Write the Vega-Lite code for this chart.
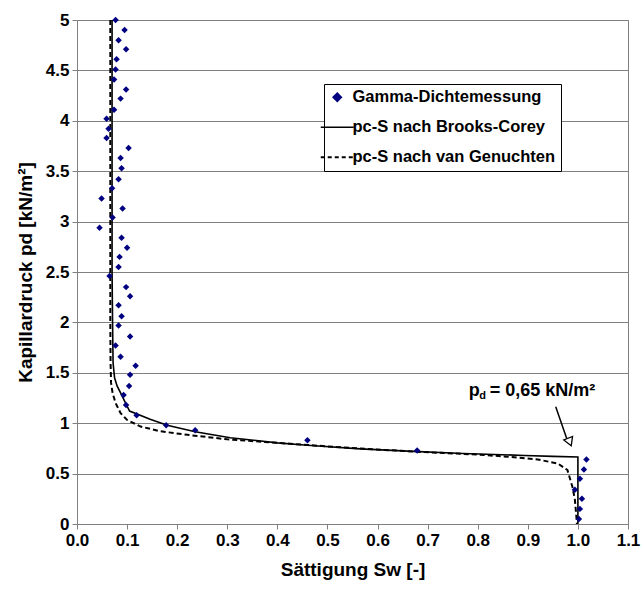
{
  "$schema": "https://vega.github.io/schema/vega-lite/v6.json",
  "width": 551,
  "height": 504,
  "autosize": {"type": "none"},
  "padding": {"left": 77, "top": 20, "right": 13, "bottom": 65},
  "background": "white",
  "config": {
    "font": "Liberation Sans",
    "view": {"stroke": "#808080", "strokeWidth": 1},
    "axis": {
      "labelFont": "Liberation Sans", "labelFontWeight": "bold", "labelFontSize": 17, "labelColor": "black",
      "titleFont": "Liberation Sans", "titleFontWeight": "bold", "titleFontSize": 19, "titleColor": "black",
      "domainColor": "#808080", "tickColor": "#808080", "gridColor": "#808080", "gridOpacity": 1,
      "tickSize": 5, "labelPadding": 3, "labelFlush": false
    }
  },
  "datasets": {
    "meas": [
      {"x": 0.077, "y": 5.00}, {"x": 0.095, "y": 4.90}, {"x": 0.083, "y": 4.80}, {"x": 0.098, "y": 4.71},
      {"x": 0.079, "y": 4.61}, {"x": 0.077, "y": 4.51}, {"x": 0.074, "y": 4.41}, {"x": 0.098, "y": 4.31},
      {"x": 0.087, "y": 4.22}, {"x": 0.074, "y": 4.11}, {"x": 0.059, "y": 4.02}, {"x": 0.063, "y": 3.92},
      {"x": 0.059, "y": 3.83}, {"x": 0.103, "y": 3.73}, {"x": 0.087, "y": 3.63}, {"x": 0.089, "y": 3.53},
      {"x": 0.083, "y": 3.42}, {"x": 0.070, "y": 3.33}, {"x": 0.049, "y": 3.23}, {"x": 0.091, "y": 3.13},
      {"x": 0.071, "y": 3.04}, {"x": 0.045, "y": 2.94}, {"x": 0.089, "y": 2.84}, {"x": 0.100, "y": 2.74},
      {"x": 0.085, "y": 2.65}, {"x": 0.083, "y": 2.55}, {"x": 0.065, "y": 2.46}, {"x": 0.098, "y": 2.35},
      {"x": 0.106, "y": 2.26}, {"x": 0.083, "y": 2.17}, {"x": 0.089, "y": 2.06}, {"x": 0.083, "y": 1.97},
      {"x": 0.106, "y": 1.86}, {"x": 0.077, "y": 1.77}, {"x": 0.087, "y": 1.66}, {"x": 0.117, "y": 1.57},
      {"x": 0.106, "y": 1.48}, {"x": 0.104, "y": 1.37}, {"x": 0.093, "y": 1.28}, {"x": 0.098, "y": 1.18},
      {"x": 0.119, "y": 1.08}, {"x": 0.178, "y": 0.98}, {"x": 0.236, "y": 0.93}, {"x": 0.460, "y": 0.83},
      {"x": 0.679, "y": 0.73}, {"x": 1.017, "y": 0.64}, {"x": 1.012, "y": 0.54}, {"x": 1.004, "y": 0.45},
      {"x": 0.994, "y": 0.34}, {"x": 1.008, "y": 0.25}, {"x": 1.004, "y": 0.15}, {"x": 1.002, "y": 0.05}
    ],
    "bc": [
      {"i": 1, "x": 0.070, "y": 5.0}, {"i": 2, "x": 0.070, "y": 2.5}, {"i": 3, "x": 0.071, "y": 2.0},
      {"i": 4, "x": 0.072, "y": 1.6}, {"i": 5, "x": 0.075, "y": 1.45}, {"i": 6, "x": 0.080, "y": 1.37},
      {"i": 7, "x": 0.089, "y": 1.28}, {"i": 8, "x": 0.097, "y": 1.2}, {"i": 9, "x": 0.105, "y": 1.12},
      {"i": 10, "x": 0.146, "y": 1.04}, {"i": 11, "x": 0.18, "y": 0.98}, {"i": 12, "x": 0.236, "y": 0.915},
      {"i": 13, "x": 0.306, "y": 0.856}, {"i": 14, "x": 0.40, "y": 0.805}, {"i": 15, "x": 0.46, "y": 0.782},
      {"i": 16, "x": 0.566, "y": 0.745}, {"i": 17, "x": 0.671, "y": 0.72}, {"i": 18, "x": 0.771, "y": 0.70},
      {"i": 19, "x": 0.893, "y": 0.68}, {"i": 20, "x": 0.95, "y": 0.671}, {"i": 21, "x": 1.0, "y": 0.665},
      {"i": 22, "x": 1.0, "y": 0.0}
    ],
    "vg": [
      {"i": 1, "x": 0.0665, "y": 5.0}, {"i": 2, "x": 0.0665, "y": 2.0}, {"i": 3, "x": 0.067, "y": 1.6},
      {"i": 4, "x": 0.068, "y": 1.4}, {"i": 5, "x": 0.071, "y": 1.3}, {"i": 6, "x": 0.077, "y": 1.2},
      {"i": 7, "x": 0.087, "y": 1.1}, {"i": 8, "x": 0.100, "y": 1.033}, {"i": 9, "x": 0.127, "y": 0.967},
      {"i": 10, "x": 0.166, "y": 0.92}, {"i": 11, "x": 0.22, "y": 0.885}, {"i": 12, "x": 0.30, "y": 0.84},
      {"i": 13, "x": 0.46, "y": 0.784}, {"i": 14, "x": 0.566, "y": 0.748}, {"i": 15, "x": 0.679, "y": 0.717},
      {"i": 16, "x": 0.80, "y": 0.688}, {"i": 17, "x": 0.86, "y": 0.668}, {"i": 18, "x": 0.92, "y": 0.64},
      {"i": 19, "x": 0.96, "y": 0.60}, {"i": 20, "x": 0.979, "y": 0.536}, {"i": 21, "x": 0.989, "y": 0.37},
      {"i": 22, "x": 0.994, "y": 0.24}, {"i": 23, "x": 0.997, "y": 0.07}, {"i": 24, "x": 0.998, "y": 0.0}
    ],
    "anno": [
      {"x": 0.782, "y": 1.27, "xa": 0.9557, "ya": 1.164, "xb": 0.9775, "yb": 0.85, "xh": 0.9836, "yh": 0.813,
       "t1": "p", "t2": "d", "t3": "= 0,65 kN/m²"}
    ]
  },
  "layer": [
    {
      "data": {"name": "vg"},
      "transform": [{"calculate": "'pc-S nach van Genuchten'", "as": "series"}],
      "mark": {"type": "line", "strokeWidth": 2, "strokeDash": [5, 3]},
      "encoding": {
        "x": {"field": "x", "type": "quantitative", "scale": {"domain": [0, 1.1], "nice": false},
              "axis": {"values": [0, 0.1, 0.2, 0.3, 0.4, 0.5, 0.6, 0.7, 0.8, 0.9, 1.0, 1.1], "format": ".1f",
                       "grid": false, "title": "Sättigung Sw [-]", "titlePadding": 12,
                       "labelFontWeight": "bold", "titleFontWeight": "bold", "labelFlush": false}},
        "y": {"field": "y", "type": "quantitative", "scale": {"domain": [0, 5], "nice": false},
              "axis": {"values": [0, 0.5, 1, 1.5, 2, 2.5, 3, 3.5, 4, 4.5, 5], "format": "~g",
                       "grid": true, "title": "Kapillardruck pd [kN/m²]", "titlePadding": 10,
                       "labelFontWeight": "bold", "titleFontWeight": "bold", "labelFlush": false}},
        "order": {"field": "i"},
        "color": {"field": "series", "type": "nominal",
          "scale": {"domain": ["Gamma-Dichtemessung", "pc-S nach Brooks-Corey", "pc-S nach van Genuchten"],
                    "range": ["#000080", "black", "black"]},
          "legend": {
            "orient": "none", "legendX": 247, "legendY": 64, "title": null,
            "strokeColor": "black", "fillColor": "white", "padding": 5,
            "labelFont": "Liberation Sans", "labelFontSize": 16.5, "labelFontWeight": "bold", "labelColor": "black",
            "labelLimit": 400, "labelOffset": 7, "rowPadding": 13, "symbolSize": 1089, "symbolType": "stroke", "symbolStrokeWidth": 1.5,
            "encode": {"symbols": {"update": {
              "shape": {"signal": "datum.value === 'Gamma-Dichtemessung' ? 'diamond' : 'stroke'"},
              "size": {"signal": "datum.value === 'Gamma-Dichtemessung' ? 70 : 1089"},
              "fill": {"signal": "datum.value === 'Gamma-Dichtemessung' ? '#000080' : 'transparent'"},
              "stroke": {"signal": "datum.value === 'Gamma-Dichtemessung' ? 'transparent' : 'black'"},
              "strokeDash": {"signal": "datum.value === 'pc-S nach van Genuchten' ? [4,3] : [1,0]"},
              "strokeWidth": {"signal": "datum.value === 'pc-S nach van Genuchten' ? 2 : 1.5"},
              "opacity": {"value": 1}
            }}}
          }}
      }
    },
    {
      "data": {"name": "bc"},
      "transform": [{"calculate": "'pc-S nach Brooks-Corey'", "as": "series"}],
      "mark": {"type": "line", "strokeWidth": 1.6},
      "encoding": {
        "x": {"field": "x", "type": "quantitative"},
        "y": {"field": "y", "type": "quantitative"},
        "order": {"field": "i"},
        "color": {"field": "series", "type": "nominal"}
      }
    },
    {
      "data": {"name": "meas"},
      "transform": [{"calculate": "'Gamma-Dichtemessung'", "as": "series"}],
      "mark": {"type": "point", "shape": "diamond", "filled": true, "size": 42, "opacity": 1},
      "encoding": {
        "x": {"field": "x", "type": "quantitative"},
        "y": {"field": "y", "type": "quantitative"},
        "color": {"field": "series", "type": "nominal"}
      }
    },
    {
      "data": {"name": "anno"},
      "mark": {"type": "rule", "stroke": "black", "strokeWidth": 1.5, "opacity": 1, "strokeOpacity": 1},
      "encoding": {
        "x": {"field": "xa", "type": "quantitative"},
        "y": {"field": "ya", "type": "quantitative"},
        "x2": {"field": "xb"},
        "y2": {"field": "yb"}
      }
    },
    {
      "data": {"name": "anno"},
      "mark": {"type": "point", "shape": "triangle-down", "angle": 338, "size": 90, "filled": true,
               "fill": "white", "stroke": "black", "strokeWidth": 1.3, "opacity": 1},
      "encoding": {
        "x": {"field": "xh", "type": "quantitative"},
        "y": {"field": "yh", "type": "quantitative"}
      }
    },
    {
      "data": {"name": "anno"},
      "mark": {"type": "text", "align": "left", "baseline": "alphabetic", "fontSize": 18, "fontWeight": "bold",
               "font": "Liberation Sans", "color": "black"},
      "encoding": {
        "x": {"field": "x", "type": "quantitative"},
        "y": {"field": "y", "type": "quantitative"},
        "text": {"field": "t1"}
      }
    },
    {
      "data": {"name": "anno"},
      "mark": {"type": "text", "align": "left", "baseline": "alphabetic", "fontSize": 11, "fontWeight": "bold",
               "font": "Liberation Sans", "color": "black", "dx": 10.5, "dy": 3},
      "encoding": {
        "x": {"field": "x", "type": "quantitative"},
        "y": {"field": "y", "type": "quantitative"},
        "text": {"field": "t2"}
      }
    },
    {
      "data": {"name": "anno"},
      "mark": {"type": "text", "align": "left", "baseline": "alphabetic", "fontSize": 18, "fontWeight": "bold",
               "font": "Liberation Sans", "color": "black", "dx": 21},
      "encoding": {
        "x": {"field": "x", "type": "quantitative"},
        "y": {"field": "y", "type": "quantitative"},
        "text": {"field": "t3"}
      }
    }
  ]
}
